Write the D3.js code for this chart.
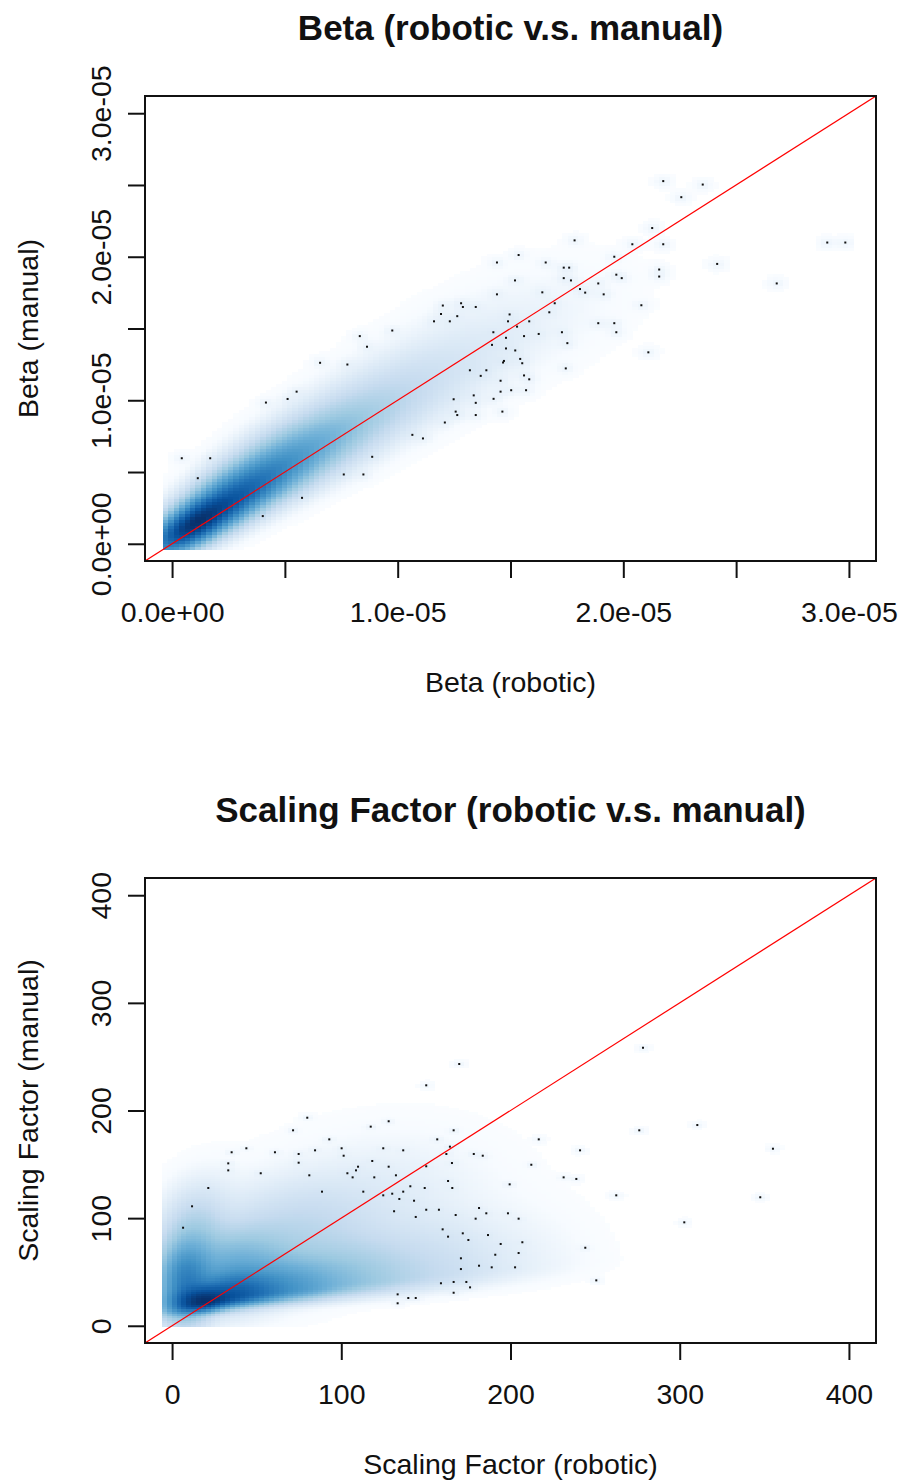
<!DOCTYPE html>
<html lang="en">
<head>
<meta charset="UTF-8">
<title>Robotic v.s. manual</title>
<script src="https://cdn.jsdelivr.net/npm/d3@7"></script>
<style>
    body { margin: 0; background: #fff; }
    svg { display: block; font-family: "Liberation Sans", Arial, sans-serif; }
</style>
</head>
<body>
<svg id="chart" width="900" height="1481"></svg>
<script>
// ---- Beta: the 100 sparsest points drawn by smoothScatter (units of 1e-6)
const betaRobotic = [
    0.43, 1.69, 1.14, 4.02, 5.76, 4.16, 5.12, 5.52, 6.56, 7.77,
    8.32, 8.64, 9.76, 7.61, 8.48, 8.87, 10.65, 11.12, 12.09, 11.61,
    11.92, 12.00, 12.31, 12.64, 12.81, 12.89, 13.46, 12.48, 12.57, 12.64,
    13.20, 13.37, 13.46, 13.46, 13.68, 13.93, 14.25, 14.24, 14.18, 14.40,
    14.40, 14.56, 14.56, 14.64, 14.67, 14.71, 14.80, 14.80, 14.89, 14.96,
    15.03, 15.20, 15.21, 15.29, 15.36, 15.43, 15.52, 15.60, 15.60, 15.69,
    15.83, 15.83, 16.25, 16.41, 16.56, 16.72, 16.96, 17.28, 17.36, 17.36,
    17.45, 17.52, 17.60, 17.68, 17.84, 18.08, 18.31, 18.89, 18.89, 19.13,
    19.60, 19.60, 19.69, 19.69, 19.93, 20.40, 20.80, 21.11, 21.28, 21.59,
    21.59, 21.77, 21.77, 22.57, 23.52, 24.16, 26.80, 29.04, 29.84
];
const betaManual = [
    5.96, 5.96, 4.57, 1.93, 3.20, 9.84, 10.09, 10.60, 12.61, 12.49,
    14.47, 13.73, 14.86, 4.83, 4.83, 6.06, 7.59, 7.34, 8.45, 15.50,
    16.01, 16.60, 15.50, 15.86, 16.76, 16.50, 16.50, 10.07, 9.21, 8.97,
    12.09, 10.34, 9.82, 8.97, 11.70, 12.09, 10.10, 14.74, 13.86, 19.60,
    17.38, 11.36, 10.60, 9.21, 12.63, 12.74, 14.35, 13.61, 15.50, 15.98,
    10.70, 18.35, 13.47, 15.13, 20.12, 12.88, 12.58, 14.47, 11.73, 10.70,
    11.46, 15.50, 14.62, 17.52, 19.60, 16.13, 16.76, 14.74, 19.24, 18.51,
    12.22, 13.98, 19.24, 18.35, 21.14, 17.75, 17.50, 18.14, 15.37, 17.38,
    20.00, 15.37, 18.75, 14.74, 18.51, 20.87, 16.62, 13.34, 22.00, 19.11,
    18.62, 20.87, 25.27, 24.15, 25.03, 19.50, 18.14, 20.99, 20.99
];
// density ridge read off the shading (units of 1e-6):
// centre, spread along the ridge, spread above / below it, ridge angle (deg), relative peak
const betaBlobX     = [0.9, 2.4, 4.3, 6.5, 9.0, 11.8, 15.0];
const betaBlobY     = [1.3, 2.8, 4.8, 7.0, 9.4, 12.0, 15.0];
const betaBlobAlong = [1.2, 1.6, 1.8, 2.0, 2.2, 2.4, 2.8];
const betaBlobUp    = [0.5, 0.7, 0.85, 1.0, 1.15, 1.35, 1.6];
const betaBlobLow   = [0.5, 0.6, 0.75, 0.9, 1.05, 1.25, 1.6];
const betaBlobAngle = [48, 48, 47, 46, 45, 45, 40];
const betaBlobW     = [1, 0.6, 0.25, 0.08, 0.02, 0.005, 0.001];
const betaTicks = [0, 5, 10, 15, 20, 25, 30];
const betaTickLabels = ["0.0e+00", "", "1.0e-05", "", "2.0e-05", "", "3.0e-05"];

// ---- Scaling factor
const sfRobotic = [
    6.5, 11.8, 21.4, 33.2, 33.2, 35.2, 43.9, 52.4, 60.8, 71.5,
    74.8, 74.8, 79.9, 81.1, 84.5, 88.6, 92.9, 100.2, 101.4, 103.6,
    106.7, 108.7, 109.9, 113.0, 117.4, 118.3, 119.5, 124.8, 124.8, 128.0,
    128.0, 130.1, 131.2, 132.3, 134.3, 136.6, 136.6, 140.8, 143.0, 144.0,
    149.3, 150.2, 150.2, 150.2, 156.7, 157.7, 159.9, 162.1, 163.1, 163.1,
    158.9, 133.3, 133.3, 139.6, 144.0,
    169.7, 278.3, 166.4, 164.2, 165.4, 178.3, 183.6, 216.7, 241.1, 212.3,
    276.1, 310.4, 355.1, 165.6, 167.6, 181.4, 179.4, 185.7, 198.5, 204.8,
    199.5, 231.4, 238.9, 262.5, 347.6, 302.7, 171.8, 175.1, 186.7, 194.2,
    207.0, 204.8, 191.0, 170.7, 170.7, 181.4, 188.9, 202.7, 244.2, 250.7,
    166.4, 173.9, 176.1, 166.4
];
const sfManual = [
    91.1, 111.0, 128.0, 144.4, 150.9, 161.2, 164.9, 141.7, 161.2, 181.6,
    159.6, 151.5, 193.3, 139.8, 163.0, 124.6, 173.2, 164.9, 158.0, 141.7,
    137.9, 144.4, 147.8, 124.6, 185.0, 153.1, 137.9, 164.9, 121.2, 190.0,
    147.8, 122.7, 106.4, 139.8, 117.8, 163.0, 124.6, 129.6, 116.2, 101.1,
    128.0, 223.4, 107.8, 148.2, 173.2, 107.8, 89.6, 159.6, 134.5, 82.8,
    39.5, 29.2, 20.9, 25.8, 25.8,
    243.2, 258.3, 181.6, 166.4, 151.2, 159.6, 158.0, 173.2, 163.0, 149.6,
    181.6, 186.5, 164.5, 128.0, 102.9, 109.4, 99.5, 104.5, 104.5, 99.5,
    131.4, 137.9, 136.4, 121.2, 119.4, 96.1, 85.9, 79.7, 84.3, 76.0,
    77.6, 67.6, 66.0, 62.7, 52.7, 55.8, 54.3, 54.3, 72.5, 42.2,
    40.7, 40.7, 35.7, 30.7
];
// core, horizontal arm, vertical arm, upper fan
const sfBlobX     = [18, 38, 65, 100, 145, 195, 8, 12, 20, 35, 70, 120];
const sfBlobY     = [22, 28, 33, 40, 47, 54, 42, 75, 110, 55, 85, 120];
const sfBlobAlong = [10, 14, 18, 22, 25, 25, 18, 22, 20, 20, 30, 35];
const sfBlobUp    = [8, 12, 16, 22, 28, 32, 8, 10, 12, 16, 22, 28];
const sfBlobLow   = [4.5, 5, 5.5, 6.5, 7.5, 8.5, 8, 10, 12, 16, 22, 28];
const sfBlobAngle = [15, 10, 8, 8, 8, 8, 88, 85, 80, 45, 35, 25];
const sfBlobW     = [1, 0.55, 0.2, 0.06, 0.015, 0.0015, 0.3, 0.05, 0.002, 0.1, 0.02, 0.002];
const sfTicks = [0, 100, 200, 300, 400];
const sfTickLabels = ["0", "100", "200", "300", "400"];

// smoothScatter palette: white + blues9
const blues9 = ["#F7FBFF", "#DEEBF7", "#C6DBEF", "#9ECAE1", "#6BAED6",
                "#4292C6", "#2171B5", "#08519C", "#08306B"];

const svg = d3.select("#chart");
const left = 145, right = 876;

const ramp = d3.scaleLinear()
    .domain(d3.range(10).map(i => i / 9))
    .range(["#FFFFFF"].concat(blues9))
    .clamp(true);

function densityGrid(cfg) {
    const n = 128;
    const dx = (cfg.gridX[1] - cfg.gridX[0]) / n;
    const dy = (cfg.gridY[1] - cfg.gridY[0]) / n;
    const blobs = cfg.blobX.map((bx, k) => {
        const a = cfg.blobAngle[k] * Math.PI / 180;
        return { x: bx, y: cfg.blobY[k], c: Math.cos(a), s: Math.sin(a),
                 su: cfg.blobAlong[k], up: cfg.blobUp[k], low: cfg.blobLow[k], w: cfg.blobW[k] };
    });
    const cells = [];
    let max = 0;
    for (let i = 0; i < n; i++) {
        const gx = cfg.gridX[0] + (i + 0.5) * dx;
        for (let j = 0; j < n; j++) {
            const gy = cfg.gridY[0] + (j + 0.5) * dy;
            let d = 0;
            blobs.forEach(b => {
                const ex = gx - b.x, ey = gy - b.y;
                const u = (ex * b.c + ey * b.s) / b.su;
                const t = -ex * b.s + ey * b.c;
                const v = t / (t >= 0 ? b.up : b.low);
                d += b.w * Math.exp(-(u * u + v * v) / 2);
            });
            cfg.xs.forEach((px, k) => {
                const u = (gx - px) / cfg.ptH[0];
                const v = (gy - cfg.ys[k]) / cfg.ptH[1];
                if (Math.abs(u) < 3.4 && Math.abs(v) < 3.4) d += cfg.ptW * Math.exp(-(u * u + v * v) / 2);
            });
            if (d > max) max = d;
            cells.push({ x0: gx - dx / 2, x1: gx + dx / 2, y0: gy - dy / 2, y1: gy + dy / 2, d });
        }
    }
    cells.forEach(c => c.v = c.d / max < 2e-5 ? 0 : Math.pow(c.d / max, 0.25));
    return cells.filter(c => c.v > 0);
}

function drawPanel(cfg) {
    const x = d3.scaleLinear().domain(cfg.domain).range([left, right]);
    const y = d3.scaleLinear().domain(cfg.domain).range([cfg.bottom, cfg.top]);
    const g = svg.append("g");

    g.append("clipPath").attr("id", cfg.id + "-clip")
        .append("rect").attr("x", left).attr("y", cfg.top)
        .attr("width", right - left).attr("height", cfg.bottom - cfg.top);

    const plot = g.append("g").attr("clip-path", `url(#${cfg.id}-clip)`);

    plot.append("g").selectAll("rect")
        .data(densityGrid(cfg))
        .join("rect")
        .attr("x", d => x(d.x0))
        .attr("y", d => y(d.y1))
        .attr("width", d => x(d.x1) - x(d.x0) + 0.3)
        .attr("height", d => y(d.y0) - y(d.y1) + 0.3)
        .attr("fill", d => ramp(d.v))
        .attr("shape-rendering", "crispEdges");

    plot.append("g").selectAll("rect")
        .data(cfg.xs.map((v, i) => [v, cfg.ys[i]]))
        .join("rect")
        .attr("x", d => x(d[0]) - 1)
        .attr("y", d => y(d[1]) - 1)
        .attr("width", 2)
        .attr("height", 2)
        .attr("fill", "#111");

    // abline(0, 1)
    plot.append("path")
        .attr("d", d3.line().x(d => x(d)).y(d => y(d))(cfg.domain))
        .attr("stroke", "red")
        .attr("stroke-width", 1.2)
        .attr("fill", "none");

    g.append("rect")
        .attr("x", left).attr("y", cfg.top)
        .attr("width", right - left).attr("height", cfg.bottom - cfg.top)
        .attr("fill", "none").attr("stroke", "#111").attr("stroke-width", 2);

    const xAxis = d3.axisBottom(x).tickValues(cfg.ticks).tickSize(17).tickFormat((d, i) => cfg.tickLabels[i]);
    const gx = g.append("g").attr("transform", `translate(0,${cfg.bottom})`).call(xAxis);
    gx.select(".domain").remove();
    gx.selectAll(".tick line").attr("stroke", "#111").attr("stroke-width", 2);
    gx.selectAll(".tick text").attr("y", 61).attr("dy", null)
        .attr("font-size", 28.5).attr("font-family", "Liberation Sans, Arial, sans-serif").attr("fill", "#111");

    const yAxis = d3.axisLeft(y).tickValues(cfg.ticks).tickSize(17).tickFormat((d, i) => cfg.tickLabels[i]);
    const gy = g.append("g").attr("transform", `translate(${left},0)`).call(yAxis);
    gy.select(".domain").remove();
    gy.selectAll(".tick line").attr("stroke", "#111").attr("stroke-width", 2);
    gy.selectAll(".tick text")
        .attr("x", null).attr("dy", null)
        .attr("transform", "translate(-34,0) rotate(-90)")
        .attr("text-anchor", "middle")
        .attr("font-size", 28.5).attr("font-family", "Liberation Sans, Arial, sans-serif").attr("fill", "#111");

    const midX = (left + right) / 2, midY = (cfg.top + cfg.bottom) / 2;
    g.append("text").attr("x", midX).attr("y", cfg.top - 56)
        .attr("text-anchor", "middle").attr("font-size", 35).attr("font-weight", "bold")
        .attr("fill", "#111").text(cfg.title);
    g.append("text").attr("x", midX).attr("y", cfg.bottom + 131)
        .attr("text-anchor", "middle").attr("font-size", 28.5)
        .attr("fill", "#111").text(cfg.xLabel);
    g.append("text").attr("transform", `translate(38,${midY}) rotate(-90)`)
        .attr("text-anchor", "middle").attr("font-size", 28.5)
        .attr("fill", "#111").text(cfg.yLabel);
}

drawPanel({
    id: "beta", top: 96, bottom: 561,
    domain: [-1.2, 31.2],
    gridX: [-0.4, 30.2], gridY: [-0.4, 26.0],
    xs: betaRobotic, ys: betaManual, ptH: [0.25, 0.25], ptW: 0.0006,
    blobX: betaBlobX, blobY: betaBlobY, blobAlong: betaBlobAlong, blobUp: betaBlobUp, blobLow: betaBlobLow,
    blobAngle: betaBlobAngle, blobW: betaBlobW,
    ticks: betaTicks, tickLabels: betaTickLabels,
    title: "Beta (robotic v.s. manual)", xLabel: "Beta (robotic)", yLabel: "Beta (manual)"
});

drawPanel({
    id: "sf", top: 878, bottom: 1343,
    domain: [-16, 416],
    gridX: [-6, 362], gridY: [-1, 262],
    xs: sfRobotic, ys: sfManual, ptH: [2.4, 1.9], ptW: 0.0006,
    blobX: sfBlobX, blobY: sfBlobY, blobAlong: sfBlobAlong, blobUp: sfBlobUp, blobLow: sfBlobLow,
    blobAngle: sfBlobAngle, blobW: sfBlobW,
    ticks: sfTicks, tickLabels: sfTickLabels,
    title: "Scaling Factor (robotic v.s. manual)", xLabel: "Scaling Factor (robotic)", yLabel: "Scaling Factor (manual)"
});
</script>
</body>
</html>
